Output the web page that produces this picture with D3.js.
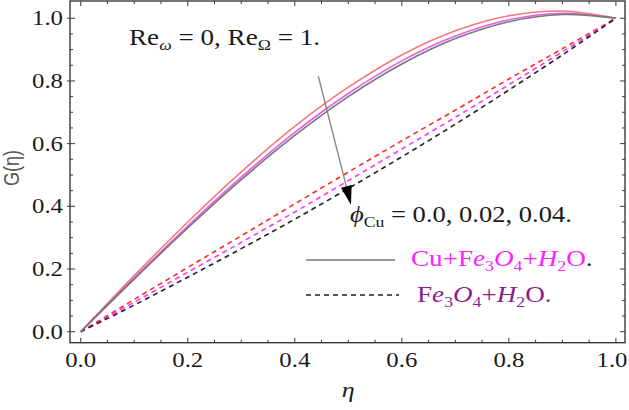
<!DOCTYPE html>
<html>
<head>
<meta charset="utf-8">
<script src="https://cdn.jsdelivr.net/npm/d3@7"></script>
<style>
body{margin:0;background:#fff;}
svg{display:block;}
</style>
</head>
<body>
<div id="chart"></div>
<script>
(function(){

const width = 629;
const height = 410;

// eta grid
const eta = [0,0.1,0.2,0.3,0.4,0.5,0.6,0.7,0.8,0.9,1.0];

// solid: Cu+Fe3O4+H2O, phi = 0.0, 0.02, 0.04
const solid00 = [0,0.179,0.350,0.510,0.655,0.780,0.883,0.960,1.008,1.023,1.0];
const solid02 = [0,0.172,0.337,0.493,0.636,0.760,0.864,0.943,0.995,1.016,1.0];
const solid04 = [0,0.168,0.331,0.485,0.626,0.750,0.854,0.935,0.989,1.012,1.0];

// dashed: Fe3O4+H2O
const dash00 = [0,0.103,0.205,0.306,0.408,0.509,0.609,0.707,0.806,0.903,1.0];
const dash02 = [0,0.094,0.190,0.285,0.382,0.482,0.583,0.684,0.788,0.893,1.0];
const dash04 = [0,0.085,0.174,0.265,0.359,0.457,0.558,0.662,0.771,0.883,1.0];

const xTicks = [0,0.2,0.4,0.6,0.8,1.0];
const yTicks = [0,0.2,0.4,0.6,0.8,1.0];

const svg = d3.select("#chart")
.append("svg")
.attr("width",width)
.attr("height",height);

const x = d3.scaleLinear()
.domain([-0.02,1.017])
.range([70,625]);

const y = d3.scaleLinear()
.domain([-0.035,1.055])
.range([342.7,1]);

const serif = "'Liberation Serif','Times New Roman',serif";
const frameCol = "#3a3a3a";
const SX = 1.18; // the figure text is a bit wide

// text helper, stretched horizontally
function stext(px, py, size, anchor){
  return svg.append("g")
  .attr("transform",`translate(${px},${py}) scale(${SX},1)`)
  .append("text")
  .attr("text-anchor",anchor||"start")
  .attr("font-family",serif)
  .attr("font-size",size+"px")
  .attr("fill","#1a1a1a");
}

// frame
svg.append("rect")
.attr("x",x.range()[0])
.attr("y",y.range()[1])
.attr("width",x.range()[1]-x.range()[0])
.attr("height",y.range()[0]-y.range()[1])
.attr("fill","none")
.attr("stroke",frameCol)
.attr("stroke-width",1.4);

const minorX = d3.range(0,1.0001,0.05);
const minorY = d3.range(0,1.0001,0.05);
const isMajor = v => Math.abs(v*5-Math.round(v*5))<1e-6;

const ticks = svg.append("g").attr("stroke",frameCol).attr("stroke-width",1);

// bottom + top ticks
minorX.forEach(v=>{
  const L = isMajor(v) ? 5 : 3;
  ticks.append("line").attr("x1",x(v)).attr("x2",x(v))
  .attr("y1",y.range()[0]).attr("y2",y.range()[0]-L);
  ticks.append("line").attr("x1",x(v)).attr("x2",x(v))
  .attr("y1",y.range()[1]).attr("y2",y.range()[1]+L);
});
// left + right ticks
minorY.forEach(v=>{
  const L = isMajor(v) ? 5 : 3;
  ticks.append("line").attr("y1",y(v)).attr("y2",y(v))
  .attr("x1",x.range()[0]-(isMajor(v)?3:0)).attr("x2",x.range()[0]+L);
  ticks.append("line").attr("y1",y(v)).attr("y2",y(v))
  .attr("x1",x.range()[1]).attr("x2",x.range()[1]-L);
});

// tick labels (last one nudged so it stays on the page)
xTicks.forEach(d=>{
  stext(Math.min(x(d),612),367,21,"middle").text(d.toFixed(1));
});
yTicks.forEach(d=>{
  stext(63,y(d)+7,21,"end").text(d.toFixed(1));
});

// axis labels
stext(x(0.5),397,22,"middle").attr("font-style","italic").text("η");

svg.append("text")
.attr("transform",`translate(19,168) rotate(-90) scale(1,${SX})`)
.attr("text-anchor","middle")
.attr("font-family","'Liberation Sans',Arial,sans-serif")
.attr("font-size","18px")
.attr("fill","#555")
.text("G(η)");

// curves
const line = d3.line()
.x((d,i)=>x(eta[i]))
.y(d=>y(d))
.curve(d3.curveCatmullRom.alpha(0.5));

const series = [
  {v:dash00, c:"#ff2a2a", dash:"5,4", w:1.6},
  {v:dash02, c:"#ff33ff", dash:"5,4", w:1.6},
  {v:dash04, c:"#222222", dash:"5,4", w:1.6},
  {v:solid00, c:"#f27a7a", dash:null, w:1.6},
  {v:solid02, c:"#e85ce8", dash:null, w:1.6},
  {v:solid04, c:"#777777", dash:null, w:1.6}
];

series.forEach(s=>{
  svg.append("path")
  .datum(s.v)
  .attr("fill","none")
  .attr("stroke",s.c)
  .attr("stroke-width",s.w)
  .attr("stroke-dasharray",s.dash)
  .attr("d",line);
});

// arrow
const a0 = [0.444,0.815], a1 = [0.505,0.405];
const ax0 = x(a0[0]), ay0 = y(a0[1]), ax1 = x(a1[0]), ay1 = y(a1[1]);
const ang = Math.atan2(ay1-ay0, ax1-ax0);
const hl = 19, hw = 5.5;
const bx = ax1 - hl*Math.cos(ang), by = ay1 - hl*Math.sin(ang);
svg.append("line")
.attr("x1",ax0).attr("y1",ay0).attr("x2",bx).attr("y2",by)
.attr("stroke","#888").attr("stroke-width",1.4);
svg.append("path")
.attr("d",`M${ax1},${ay1}L${bx+hw*Math.sin(ang)},${by-hw*Math.cos(ang)}L${bx-hw*Math.sin(ang)},${by+hw*Math.cos(ang)}Z`)
.attr("fill","#000");

// annotation texts
const t1 = stext(129,45,23);
t1.append("tspan").text("Re");
t1.append("tspan").attr("dy",5).attr("font-size","15px").attr("font-style","italic").text("ω");
t1.append("tspan").attr("dy",-5).text(" = 0, Re");
t1.append("tspan").attr("dy",5).attr("font-size","15px").text("Ω");
t1.append("tspan").attr("dy",-5).text(" = 1.");

const t2 = stext(350,222,22.5);
t2.append("tspan").attr("font-style","italic").text("ϕ");
t2.append("tspan").attr("dy",5).attr("font-size","15px").text("Cu");
t2.append("tspan").attr("dy",-5).text(" = 0.0, 0.02, 0.04.");

// legend
svg.append("line")
.attr("x1",306).attr("x2",395).attr("y1",260).attr("y2",260)
.attr("stroke","#777").attr("stroke-width",1.6);
svg.append("line")
.attr("x1",306).attr("x2",399).attr("y1",295).attr("y2",295)
.attr("stroke","#222").attr("stroke-width",1.6).attr("stroke-dasharray","5,4");

function chem(sel, prefix, endCol){
  if(prefix) sel.append("tspan").text(prefix);
  sel.append("tspan").text("F");
  sel.append("tspan").attr("font-style","italic").text("e");
  sel.append("tspan").attr("dy",5).attr("font-size","15px").text("3");
  sel.append("tspan").attr("dy",-5).attr("font-style","italic").text("O");
  sel.append("tspan").attr("dy",5).attr("font-size","15px").text("4");
  sel.append("tspan").attr("dy",-5).text("+");
  sel.append("tspan").attr("font-style","italic").text("H");
  sel.append("tspan").attr("dy",5).attr("font-size","15px").text("2");
  sel.append("tspan").attr("dy",-5).text("O");
  sel.append("tspan").attr("fill",endCol).text(".");
}

const l1 = stext(411,266,23).attr("fill","#ff22ff");
chem(l1,"Cu+","#222");

const l2 = stext(417,302,23).attr("fill","#8a1e8a");
chem(l2,null,"#8a1e8a");

})();
</script>
</body>
</html>
